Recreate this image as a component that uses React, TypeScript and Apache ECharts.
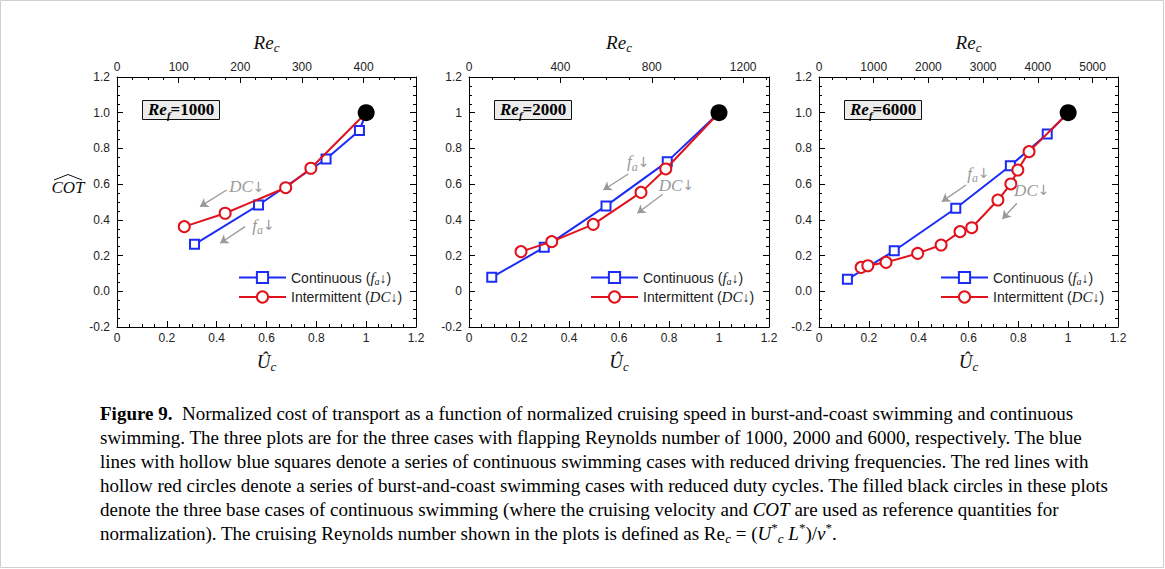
import React, { useEffect, useRef } from 'react';
import * as echarts from 'echarts';

// ---------- data ----------
const panelRef = ['1000', '2000', '6000'];
const reBase = [404, 1094, 4554];
const reInterval = [100, 400, 1000];

const cont1U = [0.311, 0.568, 0.839, 0.973, 1.0];
const cont1C = [0.263, 0.483, 0.741, 0.9, 1.0];
const int1U = [0.27, 0.434, 0.677, 0.778, 1.0];
const int1C = [0.362, 0.437, 0.58, 0.689, 1.0];

const cont2U = [0.091, 0.301, 0.548, 0.793, 1.0];
const cont2C = [0.078, 0.246, 0.478, 0.726, 1.0];
const int2U = [0.208, 0.331, 0.497, 0.688, 0.787, 1.0];
const int2C = [0.222, 0.278, 0.375, 0.554, 0.685, 1.0];

const cont3U = [0.114, 0.302, 0.549, 0.768, 0.916, 1.0];
const cont3C = [0.067, 0.227, 0.465, 0.703, 0.881, 1.0];
const int3U = [0.169, 0.196, 0.269, 0.396, 0.49, 0.566, 0.613, 0.718, 0.77, 0.798, 0.843, 1.0];
const int3C = [0.134, 0.143, 0.162, 0.212, 0.259, 0.334, 0.356, 0.511, 0.601, 0.679, 0.782, 1.0];

const baseU = [1.0];
const baseC = [1.0];

const contU = [cont1U, cont2U, cont3U];
const contC = [cont1C, cont2C, cont3C];
const intU = [int1U, int2U, int3U];
const intC = [int1C, int2C, int3C];

// annotation arrows: [x1, y1, x2, y2]
const faArrows = [
  [0.514, 0.362, 0.414, 0.269],
  [0.637, 0.657, 0.537, 0.567],
  [0.59, 0.595, 0.493, 0.502],
];
const dcArrows = [
  [0.44, 0.567, 0.333, 0.474],
  [0.775, 0.543, 0.673, 0.437],
  [0.794, 0.493, 0.736, 0.405],
];
const faLabels = [
  [0.588, 0.371],
  [0.677, 0.726],
  [0.64, 0.66],
];
const dcLabels = [
  [0.521, 0.586],
  [0.83, 0.595],
  [0.854, 0.567],
];

const captionLines = [
  '{b|Figure 9.}{t|  Normalized cost of transport as a function of normalized cruising speed in burst-and-coast swimming and continuous}',
  '{t|swimming. The three plots are for the three cases with flapping Reynolds number of 1000, 2000 and 6000, respectively. The blue}',
  '{t|lines with hollow blue squares denote a series of continuous swimming cases with reduced driving frequencies. The red lines with}',
  '{t|hollow red circles denote a series of burst-and-coast swimming cases with reduced duty cycles. The filled black circles in these plots}',
  '{t|denote the three base cases of continuous swimming (where the cruising velocity and }{i|COT}{t| are used as reference quantities for}',
  '{t|normalization). The cruising Reynolds number shown in the plots is defined as Re}{sub|c}{t| = (}{i|U}{sup|*}{sub|c}{i| L}{sup|*}{t|)/}{i|ν}{sup|*}{t|.}',
];

const CONT_NAME = 'Continuous (fa↓)';
const INT_NAME = 'Intermittent (DC↓)';

// ---------- layout ----------
const SANS = '"Liberation Sans", Arial, sans-serif';
const SERIF = '"Liberation Serif", "Times New Roman", serif';
const BLUE = '#1a2cf5';
const RED = '#e0121c';
const GRAY = '#999999';
const gridLefts = [117, 469, 819];
const gridWidths = [299, 300, 299];
const gridTop = 77;
const gridHeight = 250;
const legendLefts = [233, 585, 935];

const axisLine = { show: true, onZero: false, lineStyle: { color: '#000', width: 1 } };
const axisTick = { show: true, inside: true, length: 6, lineStyle: { color: '#000', width: 1 } };
const minorTick = { show: true, splitNumber: 4, length: 3, lineStyle: { color: '#000', width: 1 } };
const tickLabel = { color: '#222', fontFamily: SANS, fontSize: 12 };

const mathRich = {
  r: { fontFamily: SERIF, fontStyle: 'italic', fontSize: 19, color: '#111', lineHeight: 24 },
  s: { fontFamily: SERIF, fontStyle: 'italic', fontSize: 13, color: '#111', lineHeight: 14, verticalAlign: 'bottom' },
};

function pairs(xs: number[], ys: number[]) {
  return xs.map((x, k) => {
    if (k === xs.length - 1) return { value: [x, ys[k]], symbol: 'none' };
    return { value: [x, ys[k]] };
  });
}

function buildOption() {
  const grid: any[] = [];
  const xAxis: any[] = [];
  const yAxis: any[] = [];
  const series: any[] = [];
  const legend: any[] = [];
  const title: any[] = [];

  for (let i = 0; i < 3; i++) {
    grid.push({ left: gridLefts[i], top: gridTop, width: gridWidths[i], height: gridHeight });
    xAxis.push({
      type: 'value', gridIndex: i, position: 'bottom', min: 0, max: 1.2, interval: 0.2,
      axisLine, axisTick, minorTick, splitLine: { show: false },
      axisLabel: { ...tickLabel, margin: 5 },
      name: '{r|Û}{s|c}', nameLocation: 'middle', nameGap: 22,
      nameTextStyle: { rich: mathRich },
    });
    xAxis.push({
      type: 'value', gridIndex: i, position: 'top', min: 0, max: +(reBase[i] * 1.2).toFixed(0), interval: reInterval[i],
      axisLine, axisTick, minorTick, splitLine: { show: false },
      axisLabel: { ...tickLabel, margin: 4, showMaxLabel: false, formatter: (v: number) => String(Math.round(v)) },
      name: '{r|Re}{s|c}', nameLocation: 'middle', nameGap: 23,
      nameTextStyle: { rich: mathRich },
    });
    yAxis.push({
      type: 'value', gridIndex: i, position: 'left', min: -0.2, max: 1.2, interval: 0.2,
      axisLine, axisTick, minorTick, splitLine: { show: false },
      axisLabel: {
        ...tickLabel, margin: 7,
        formatter: i === 1 ? (v: number) => String(Math.round(v * 10) / 10) : (v: number) => v.toFixed(1),
      },
    });
    yAxis.push({
      type: 'value', gridIndex: i, position: 'right', min: -0.2, max: 1.2, interval: 0.2,
      axisLine, axisTick, minorTick, splitLine: { show: false },
      axisLabel: { show: false },
    });

    series.push({
      name: CONT_NAME, type: 'line', xAxisIndex: 2 * i, yAxisIndex: 2 * i,
      data: pairs(contU[i], contC[i]),
      symbol: 'emptyRect', symbolSize: 9, showAllSymbol: true,
      lineStyle: { color: BLUE, width: 2 },
      itemStyle: { color: BLUE, borderWidth: 1.6 },
      z: 3,
    });
    series.push({
      name: INT_NAME, type: 'line', xAxisIndex: 2 * i, yAxisIndex: 2 * i,
      data: pairs(intU[i], intC[i]),
      symbol: 'emptyCircle', symbolSize: 11, showAllSymbol: true,
      lineStyle: { color: RED, width: 2 },
      itemStyle: { color: RED, borderWidth: 1.8 },
      z: 4,
      markLine: {
        silent: true,
        symbol: ['none', 'arrow'],
        symbolSize: 8,
        lineStyle: { color: GRAY, width: 1.3, type: 'solid' },
        label: { show: false },
        data: [
          [{ coord: [faArrows[i][0], faArrows[i][1]] }, { coord: [faArrows[i][2], faArrows[i][3]] }],
          [{ coord: [dcArrows[i][0], dcArrows[i][1]] }, { coord: [dcArrows[i][2], dcArrows[i][3]] }],
        ],
      },
      markPoint: {
        silent: true,
        symbol: 'circle', symbolSize: 1,
        itemStyle: { color: 'rgba(0,0,0,0)' },
        label: {
          show: true, position: 'inside',
          rich: {
            i: { fontFamily: SERIF, fontStyle: 'italic', fontSize: 17, color: GRAY, lineHeight: 22 },
            s: { fontFamily: SERIF, fontStyle: 'italic', fontSize: 12, color: GRAY, lineHeight: 12, verticalAlign: 'bottom' },
            a: { fontFamily: 'DejaVu Sans', fontSize: 14, color: GRAY, lineHeight: 22 },
          },
        },
        data: [
          { coord: faLabels[i], label: { formatter: '{i|f}{s|a}{a|↓}' } },
          { coord: dcLabels[i], label: { formatter: '{i|DC}{a|↓}' } },
        ],
      },
    });
    series.push({
      name: 'Base case', type: 'scatter', xAxisIndex: 2 * i, yAxisIndex: 2 * i,
      data: baseU.map((u, k) => [u, baseC[k]]),
      symbol: 'circle', symbolSize: 17,
      itemStyle: { color: '#000', opacity: 1 },
      z: 5,
    });

    legend.push({
      show: true, left: legendLefts[i], top: 265, orient: 'vertical',
      itemWidth: 47, itemHeight: 14, itemGap: 3,
      data: [CONT_NAME, INT_NAME],
      formatter: (name: string) =>
        name === CONT_NAME ? '{n|Continuous (}{i|f}{s|a}{n|↓)}' : '{n|Intermittent (}{i|DC}{n|↓)}',
      textStyle: {
        rich: {
          n: { fontFamily: SANS, fontSize: 14, color: '#222', lineHeight: 18 },
          i: { fontFamily: SERIF, fontStyle: 'italic', fontSize: 15, color: '#222', lineHeight: 18 },
          s: { fontFamily: SERIF, fontStyle: 'italic', fontSize: 10, color: '#222', lineHeight: 10, verticalAlign: 'bottom' },
        },
      },
      selectedMode: false,
    });

    title.push({
      left: gridLefts[i] + 25, top: 98,
      text: '{r|Re}{s|f}{b|=' + panelRef[i] + '}',
      backgroundColor: '#ececec', borderColor: '#111', borderWidth: 1,
      padding: [0, 6, 0, 6],
      textStyle: {
        rich: {
          r: { fontFamily: SERIF, fontStyle: 'italic', fontWeight: 'bold', fontSize: 17, color: '#000', lineHeight: 22 },
          s: { fontFamily: SERIF, fontStyle: 'italic', fontWeight: 'bold', fontSize: 11, color: '#000', lineHeight: 8, verticalAlign: 'bottom' },
          b: { fontFamily: SERIF, fontWeight: 'bold', fontSize: 17, color: '#000', lineHeight: 22 },
        },
      },
    });
  }

  const capRich = {
    t: { fontFamily: SERIF, fontSize: 19, color: '#1a1a1a', lineHeight: 24 },
    b: { fontFamily: SERIF, fontSize: 19, fontWeight: 'bold', color: '#1a1a1a', lineHeight: 24 },
    i: { fontFamily: SERIF, fontSize: 19, fontStyle: 'italic', color: '#1a1a1a', lineHeight: 24 },
    sub: { fontFamily: SERIF, fontSize: 13, fontStyle: 'italic', color: '#1a1a1a', lineHeight: 12, verticalAlign: 'bottom' },
    sup: { fontFamily: SERIF, fontSize: 13, color: '#1a1a1a', lineHeight: 12, verticalAlign: 'top' },
  };

  const graphic: any[] = captionLines.map((line, k) => ({
    type: 'text',
    x: 100, y: 401 + k * 24,
    scaleX: 1.0,
    silent: true,
    style: { text: line, rich: capRich, verticalAlign: 'top' },
  }));
  graphic.push({
    type: 'text', x: 68, y: 187, silent: true,
    style: { text: 'COT', font: 'italic 17px ' + SERIF, fill: '#111', align: 'center', verticalAlign: 'middle' },
  });
  graphic.push({
    type: 'polyline', silent: true,
    shape: { points: [[54, 180], [68, 174.5], [82, 180]] },
    style: { stroke: '#111', fill: 'none', lineWidth: 1 },
  });
  graphic.push({
    type: 'rect', silent: true, z: -10,
    shape: { x: 0.5, y: 0.5, width: 1163, height: 567 },
    style: { stroke: '#cfcfcf', fill: 'none', lineWidth: 1 },
  });

  return {
    animation: false,
    backgroundColor: '#fff',
    grid, xAxis, yAxis, series, legend, title, graphic,
  };
}

export default function App() {
  const ref = useRef<HTMLDivElement>(null);
  useEffect(() => {
    if (!ref.current) return;
    const chart = echarts.init(ref.current, null, { renderer: 'svg' });
    chart.setOption(buildOption() as any);
    return () => chart.dispose();
  }, []);
  return (
    <div
      ref={ref}
      style={{ position: 'absolute', left: 0, top: 0, width: 1165, height: 569, background: '#fff' }}
    />
  );
}
